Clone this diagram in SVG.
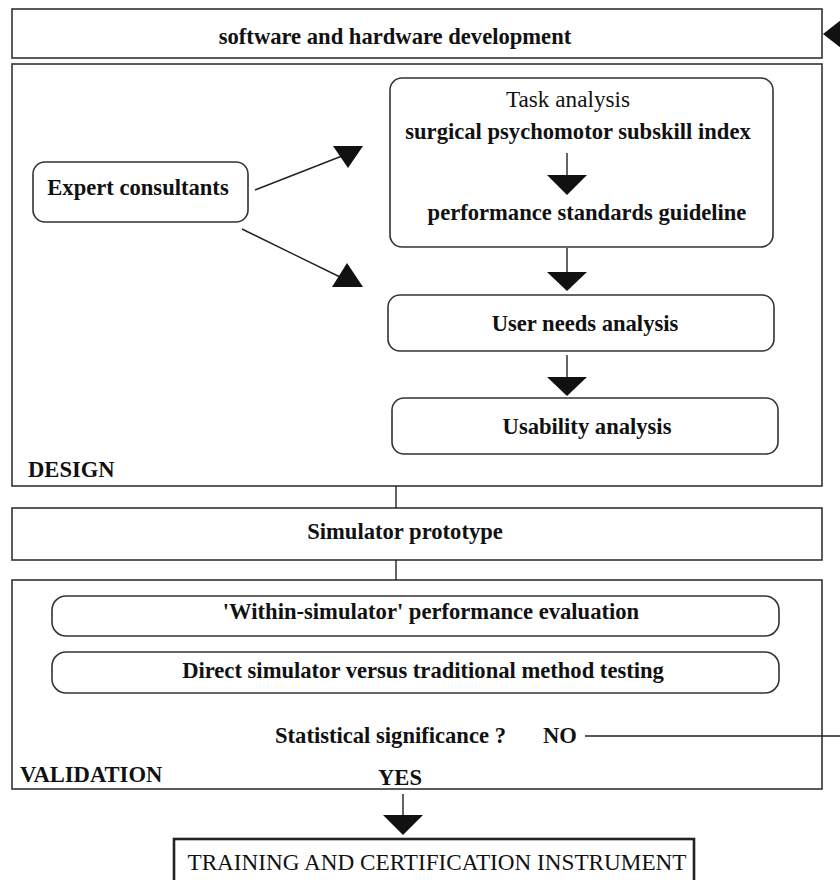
<svg xmlns="http://www.w3.org/2000/svg" width="840" height="880" viewBox="0 0 840 880">
<style>
.box{fill:#fff;stroke:#333;stroke-width:1.6}
.thick{fill:#fff;stroke:#222;stroke-width:2.6}
.t{font-family:"Liberation Serif","Times New Roman",serif;font-size:22.6px;fill:#111;font-weight:bold}
.n{font-weight:normal;font-size:23.2px}
.m{text-anchor:middle}
.ln{stroke:#222;stroke-width:1.4;fill:none}
.ah{fill:#111;stroke:none}
</style>
<rect width="840" height="880" fill="#fff"/>
<g id="software">
<rect class="box" x="12" y="9" width="810" height="49"/>
<text class="t m" x="395" y="44">software and hardware development</text>
</g>
<g id="design">
<rect class="box" x="12" y="64" width="810" height="422"/>
<text class="t" x="28" y="477">DESIGN</text>
</g>
<g id="expert">
<rect class="box" x="33" y="162" width="215" height="60" rx="12"/>
<text class="t m" x="138" y="195">Expert consultants</text>
</g>
<g id="task">
<rect class="box" x="390" y="78" width="383" height="169" rx="12"/>
<text class="t m n" x="568" y="107">Task analysis</text>
<text class="t m" x="578" y="139">surgical psychomotor subskill index</text>
<text class="t m" x="587" y="220">performance standards guideline</text>
</g>
<g id="userneeds">
<rect class="box" x="388" y="295" width="386" height="56" rx="12"/>
<text class="t m" x="585" y="331">User needs analysis</text>
</g>
<g id="usability">
<rect class="box" x="392" y="398" width="386" height="56" rx="12"/>
<text class="t m" x="587" y="434">Usability analysis</text>
</g>
<g id="prototype">
<rect class="box" x="12" y="508" width="810" height="52"/>
<text class="t m" x="405" y="539">Simulator prototype</text>
</g>
<g id="validation">
<rect class="box" x="12" y="580" width="810" height="209"/>
<text class="t" x="20" y="782">VALIDATION</text>
</g>
<g id="within">
<rect class="box" x="52" y="596" width="727" height="40" rx="14"/>
<text class="t m" x="431" y="619">'Within-simulator' performance evaluation</text>
</g>
<g id="direct">
<rect class="box" x="52" y="652" width="727" height="41" rx="14"/>
<text class="t m" x="423" y="678">Direct simulator versus traditional method testing</text>
</g>
<g id="significance">
<text class="t" x="275" y="743">Statistical significance ?</text>
<text class="t" x="543" y="743">NO</text>
<text class="t m" x="400" y="785">YES</text>
</g>
<g id="instrument">
<rect class="thick" x="174" y="839" width="520" height="50"/>
<text class="t m n" x="437" y="870">TRAINING AND CERTIFICATION INSTRUMENT</text>
</g>
<g id="connectors">
<line class="ln" x1="255" y1="190" x2="342" y2="156"/>
<polygon class="ah" points="333,146 363,146 348,168"/>
<line class="ln" x1="242" y1="229" x2="340" y2="277"/>
<polygon class="ah" points="332,287 363,287 347,263"/>
<line class="ln" x1="567" y1="153" x2="567" y2="176"/>
<polygon class="ah" points="547,175 587,175 567,195"/>
<line class="ln" x1="567" y1="248" x2="567" y2="273"/>
<polygon class="ah" points="547,272 587,272 567,291"/>
<line class="ln" x1="567" y1="355" x2="567" y2="378"/>
<polygon class="ah" points="547,377 587,377 567,396"/>
<line class="ln" x1="396" y1="486" x2="396" y2="508"/>
<line class="ln" x1="396" y1="560" x2="396" y2="580"/>
<line class="ln" x1="403" y1="794" x2="403" y2="816"/>
<polygon class="ah" points="383,815 423,815 403,835"/>
<line class="ln" x1="585" y1="736" x2="840" y2="736"/>
<polygon class="ah" points="823,34 846,16 846,52"/>
</g>
</svg>
